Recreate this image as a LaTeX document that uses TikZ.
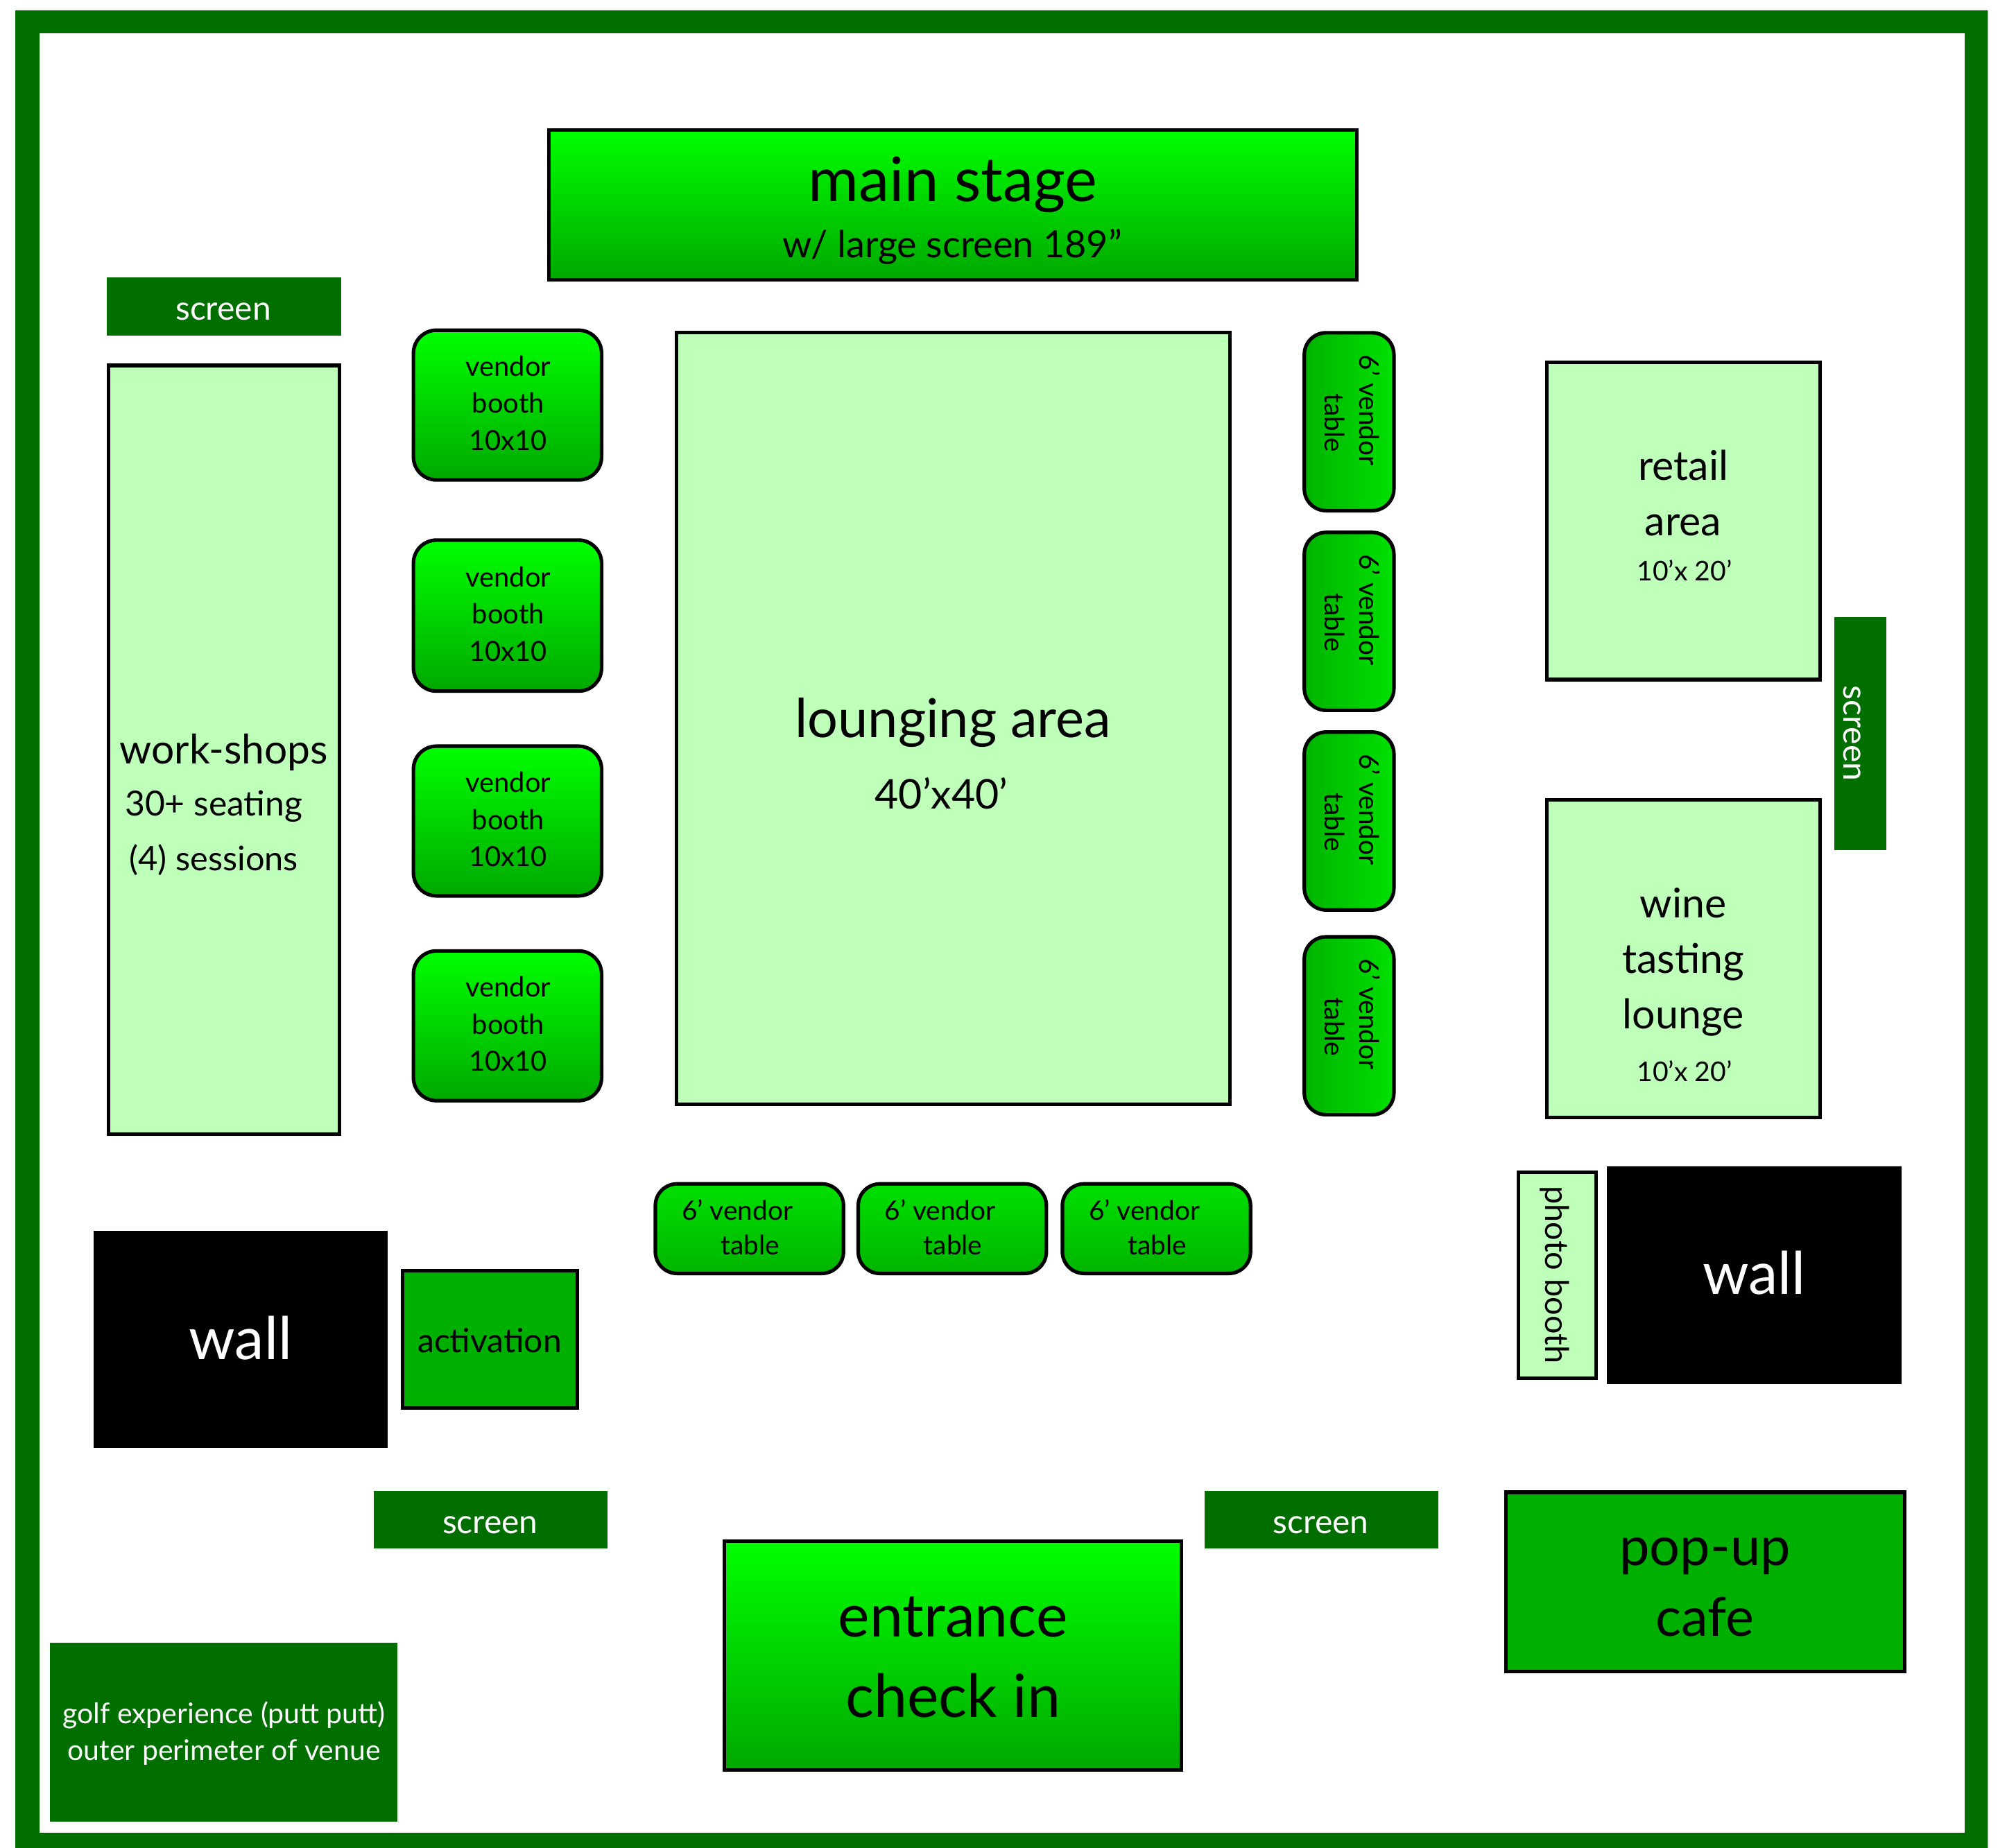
\documentclass[tikz,border=0pt]{standalone}
\usepackage{fontspec}
\setmainfont{Lato}
\definecolor{darkg}{HTML}{016E00}
\definecolor{lightg}{HTML}{BEFFB9}
\definecolor{midg}{HTML}{00B000}
\definecolor{tabletop}{HTML}{00E000}
\definecolor{tablebot}{HTML}{00B400}
\tikzset{
  plainbox/.style={draw=none,inner sep=0pt,outer sep=0pt},
  solidg/.style={plainbox,fill=darkg},
  wallbox/.style={plainbox,fill=black},
  lightbox/.style={plainbox,draw=black,line width=1.4pt,fill=lightg},
  midbox/.style={plainbox,draw=black,line width=1.4pt,fill=midg},
  gradbox/.style={plainbox,draw=black,line width=1.4pt,top color=green,bottom color=green!66!black},
  boothbox/.style={gradbox,rounded corners=9pt},
  tablebox/.style={plainbox,draw=black,line width=1.4pt,rounded corners=8.5pt,top color=tabletop,bottom color=tablebot},
  vtablebox/.style={plainbox,draw=black,line width=1.4pt,rounded corners=8.5pt,right color=tabletop,left color=tablebot},
  lbl/.style={inner sep=0pt,outer sep=0pt,anchor=base,align=center},
  blk/.style={inner sep=0pt,outer sep=0pt,anchor=center,align=center},
}
\newcommand{\fs}[2]{\fontsize{#1}{#2}\selectfont}
\newcommand{\zone}[6]{%
  \pgfmathsetmacro\zw{(#5-#3)*0.5}%
  \pgfmathsetmacro\zh{(#6-#4)*0.5}%
  \node[#2,minimum width=\zw pt,minimum height=\zh pt] (#1) at ({(#3+#5)/2},{(#4+#6)/2}) {};%
}
\begin{document}
\begin{tikzpicture}[x=0.5pt,y=-0.5pt]
\useasboundingbox (0,0) rectangle (1568,1443.9);
\fill[white] (0,0) rectangle (1568,1443.9);
\fill[darkg,even odd rule] (12,8) rectangle (1553,1443.9) (31,26) rectangle (1535,1432);
% main stage
\zone{stage}{gradbox}{429}{101.5}{1060}{218.5}
\node[lbl,font=\fs{24}{30}] (stageT) at (744.5,157.5) {main stage};
\node[lbl,font=\fs{14.6}{18}] (stageS) at (744,201.5) {w/ large screen 189”};
% workshops
\zone{scrTL}{solidg}{83.4}{216.7}{266.4}{262.3}
\node[lbl,font=\fs{13}{16},white] (scrTLt) at (174.5,250) {screen};
\zone{work}{lightbox}{85}{285.5}{265}{886}
\node[lbl,font=\fs{15.9}{20}] (workA) at (175,597) {work-shops};
\node[lbl,font=\fs{13.5}{16}] (workB) at (167,637.6) {30+ seating};
\node[lbl,font=\fs{13.2}{16}] (workC) at (167,680.5) {(4) sessions};
% booths
\zone{boothA}{boothbox}{323}{258}{470}{375}
\zone{boothB}{boothbox}{323}{422}{470}{540}
\zone{boothC}{boothbox}{323}{583}{470}{700}
\zone{boothD}{boothbox}{323}{743}{470}{860}
\node[blk,font=\fs{10.8}{14.5}] (boothAt) at (397,315) {vendor\\booth\\10x10};
\node[blk,font=\fs{10.8}{14.5}] (boothBt) at (397,479.7) {vendor\\booth\\10x10};
\node[blk,font=\fs{10.8}{14.5}] (boothCt) at (397,640.2) {vendor\\booth\\10x10};
\node[blk,font=\fs{10.8}{14.5}] (boothDt) at (397,800) {vendor\\booth\\10x10};
% lounge
\zone{lounge}{lightbox}{528.5}{260}{961}{863}
\node[lbl,font=\fs{21}{24}] (loungeT) at (744.5,576) {lounging area};
\node[lbl,font=\fs{16}{20}] (loungeS) at (735.5,632) {40’x40’};
% vertical tables
\zone{tabA}{vtablebox}{1019}{260}{1089}{399}
\zone{tabB}{vtablebox}{1019}{416}{1089}{555}
\zone{tabC}{vtablebox}{1019}{572}{1089}{711}
\zone{tabD}{vtablebox}{1019}{732}{1089}{871}
\node[blk,rotate=-90,font=\fs{10.5}{13.5}] (tabAt) at (1056.5,330.5) {6’ vendor\hspace*{10pt}\\table};
\node[blk,rotate=-90,font=\fs{10.5}{13.5}] (tabBt) at (1056.5,486.5) {6’ vendor\hspace*{10pt}\\table};
\node[blk,rotate=-90,font=\fs{10.5}{13.5}] (tabCt) at (1056.5,642.5) {6’ vendor\hspace*{10pt}\\table};
\node[blk,rotate=-90,font=\fs{10.5}{13.5}] (tabDt) at (1056.5,802.5) {6’ vendor\hspace*{10pt}\\table};
% right rooms
\zone{retail}{lightbox}{1208.5}{283}{1422}{531}
\node[blk,font=\fs{16}{21.7}] (retailT) at (1315,385) {retail\\area};
\node[lbl,font=\fs{10.6}{14}] (retailS) at (1316,454) {10’x 20’};
\zone{wine}{lightbox}{1208.5}{625}{1422}{873}
\node[blk,font=\fs{16}{21.7}] (wineT) at (1315,751.5) {wine\\tasting\\lounge};
\node[lbl,font=\fs{10.6}{14}] (wineS) at (1316,845) {10’x 20’};
\zone{scrR}{solidg}{1433}{482}{1473.5}{664}
\node[blk,rotate=-90,font=\fs{13}{16},white] (scrRt) at (1447,573) {screen};
% horizontal tables
\zone{tabE}{tablebox}{512}{925}{659}{995}
\zone{tabF}{tablebox}{670.5}{925}{817.5}{995}
\zone{tabG}{tablebox}{830}{925}{977}{995}
\node[blk,font=\fs{10.5}{13.5}] (tabEt) at (586,959) {6’ vendor\hspace*{10pt}\\table};
\node[blk,font=\fs{10.5}{13.5}] (tabFt) at (744.5,959) {6’ vendor\hspace*{10pt}\\table};
\node[blk,font=\fs{10.5}{13.5}] (tabGt) at (904,959) {6’ vendor\hspace*{10pt}\\table};
% lower right
\zone{photo}{lightbox}{1186.5}{916}{1247}{1077}
\node[blk,rotate=-90,font=\fs{12.7}{16}] (photot) at (1214.5,996) {photo booth};
\zone{wallR}{wallbox}{1255.5}{911.5}{1485.5}{1081.5}
\node[lbl,font=\fs{23}{28},white] (wallRt) at (1370.5,1011.5) {wall};
\zone{popup}{midbox}{1176.5}{1166}{1488}{1306}
\node[blk,font=\fs{21}{27.5}] (popupt) at (1332,1240) {pop-up\\cafe};
\zone{scrBR}{solidg}{941}{1165}{1123.5}{1210}
\node[lbl,font=\fs{13}{16},white] (scrBRt) at (1032,1198) {screen};
% lower left
\zone{wallL}{wallbox}{73}{961.5}{303}{1131.5}
\node[lbl,font=\fs{23}{28},white] (wallLt) at (188,1062) {wall};
\zone{activ}{midbox}{314.5}{993}{451}{1100}
\node[lbl,font=\fs{13}{15}] (activt) at (382.5,1057) {activation};
\zone{scrBL}{solidg}{292}{1165}{474.5}{1210}
\node[lbl,font=\fs{13}{16},white] (scrBLt) at (383,1198) {screen};
\zone{golf}{solidg}{39}{1283.5}{310.5}{1423.3}
\node[blk,font=\fs{11.1}{14.4},white] (golft) at (175,1354.5) {golf experience (putt putt)\\outer perimeter of venue};
% entrance
\zone{entr}{gradbox}{566}{1204}{923}{1383}
\node[blk,font=\fs{23.3}{31.5}] (entrt) at (744.5,1295) {entrance\\check in};
\end{tikzpicture}
\end{document}
